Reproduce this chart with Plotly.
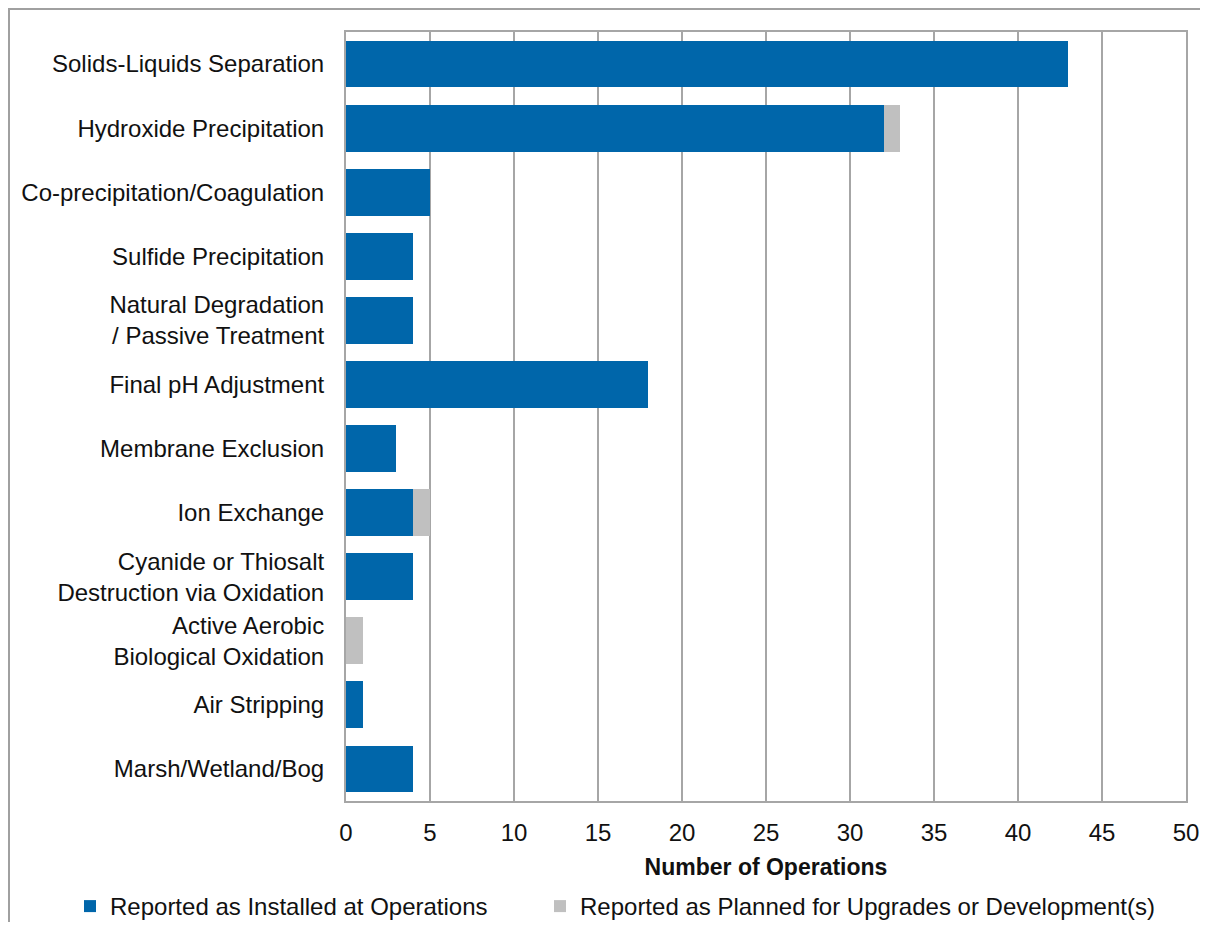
import plotly.graph_objects as go

categories = [
    "Solids-Liquids Separation",
    "Hydroxide Precipitation",
    "Co-precipitation/Coagulation",
    "Sulfide Precipitation",
    "Natural Degradation<br>/ Passive Treatment",
    "Final pH Adjustment",
    "Membrane Exclusion",
    "Ion Exchange",
    "Cyanide or Thiosalt<br>Destruction via Oxidation",
    "Active Aerobic<br>Biological Oxidation",
    "Air Stripping",
    "Marsh/Wetland/Bog",
]
installed = [43, 32, 5, 4, 4, 18, 3, 4, 4, 0, 1, 4]
planned = [0, 1, 0, 0, 0, 0, 0, 1, 0, 1, 0, 0]
x_ticks = [0, 5, 10, 15, 20, 25, 30, 35, 40, 45, 50]

BLUE = "#0066AA"
GREY = "#C0C0C0"
GRID = "#A6A6A6"
FONT = "Liberation Sans, Arial, sans-serif"

# page body has an 8px margin; figure is placed at (8, 8)
W, H = 1192, 914
L, T = 338, 24
PW, PH = 840, 769
LEG_Y = -(876 - (T + PH)) / PH

fig = go.Figure()
fig.add_trace(go.Bar(
    y=categories, x=installed, orientation="h",
    name="Reported as Installed at Operations",
    marker=dict(color=BLUE, line=dict(width=0)),
    legend="legend", showlegend=True,
))
fig.add_trace(go.Bar(
    y=categories, x=planned, orientation="h",
    name="Reported as Planned for Upgrades or Development(s)",
    marker=dict(color=GREY, line=dict(width=0)),
    legend="legend2", showlegend=True,
))

legend_common = dict(
    orientation="h", xanchor="left", y=LEG_Y, yanchor="top",
    font=dict(size=24), itemwidth=30, bgcolor="rgba(0,0,0,0)",
)

fig.update_layout(
    showlegend=True,
    barmode="stack",
    bargap=0.27,
    width=W, height=H,
    margin=dict(l=L, r=W - L - PW, t=T, b=H - T - PH, autoexpand=False),
    paper_bgcolor="white", plot_bgcolor="white",
    font=dict(family=FONT, size=24, color="#111111"),
    xaxis=dict(
        range=[0, 50], tickvals=x_ticks, ticktext=[str(v) for v in x_ticks],
        showgrid=True, gridcolor=GRID, gridwidth=2,
        showline=True, linecolor=GRID, linewidth=2, mirror=True,
        ticks="", ticklabelstandoff=9, zeroline=False,
        tickfont=dict(size=24),
        title=dict(text="<b>Number of Operations</b>", standoff=14,
                   font=dict(size=23)),
    ),
    yaxis=dict(
        autorange="reversed", categoryorder="array", categoryarray=categories,
        showline=True, linecolor=GRID, linewidth=2, mirror=True,
        ticks="", ticklabelstandoff=15, showgrid=False,
        tickfont=dict(size=24),
    ),
    legend=dict(x=(62 - L) / PW, **legend_common),
    legend2=dict(x=(532 - L) / PW, **legend_common),
    shapes=[dict(
        type="rect", xref="paper", yref="paper",
        x0=(1 - L) / PW, x1=(W + 300 - L) / PW,
        y0=-0.5, y1=1 + (T - 1) / PH,
        line=dict(color="#A0A0A0", width=2), fillcolor="rgba(0,0,0,0)",
        layer="below",
    )],
)

fig.write_html("out.html")
